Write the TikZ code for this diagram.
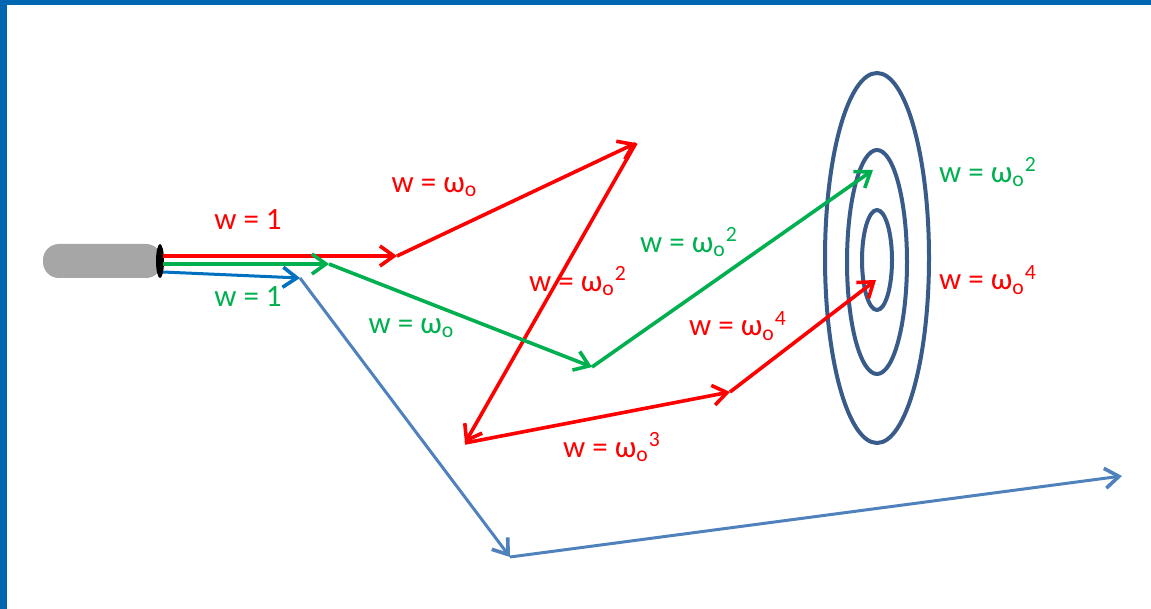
\documentclass[tikz,border=0pt]{standalone}
\usepackage{fontspec}
\setmainfont{Carlito}
\usetikzlibrary{arrows.meta}
\definecolor{frameblue}{RGB}{0,102,178}
\definecolor{wred}{RGB}{255,0,0}
\definecolor{wgreen}{RGB}{0,176,80}
\definecolor{wblue}{RGB}{0,112,192}
\definecolor{wsteel}{RGB}{79,129,189}
\definecolor{ring}{RGB}{56,91,138}
\definecolor{cablegray}{RGB}{166,166,166}
\newcommand{\wo}[1]{w = ω\textsubscript{o}\textsuperscript{#1}}
\tikzset{
  ray/.style={line width=1.8pt,-{Straight Barb[length=7pt,width=10pt,line width=1.8pt]}},
  lbl/.style={font=\fontsize{15.5}{18}\selectfont,inner sep=0pt}
}
\begin{document}
\begin{tikzpicture}[x=0.5pt,y=-0.5pt]
\useasboundingbox (0,0) rectangle (1151,609);
\fill[frameblue] (0,0) rectangle (1151,5);
\fill[frameblue] (0,0) rectangle (7,609);
% cable
\fill[cablegray,rounded corners=8] (43,244) rectangle (162,278);
\fill[black] (160,261) ellipse [x radius=4, y radius=17];
% target
\foreach \rx/\ry/\cy in {52/185/258,30/112/262,15/50/260}
  \draw[ring,line width=2pt] (877,\cy) ellipse [x radius=\rx, y radius=\ry];
% points
\coordinate (r0) at (163,256);
\coordinate (r1) at (397,256);
\coordinate (r2) at (636,143);
\coordinate (r3) at (465,443);
\coordinate (r4) at (730,392);
\coordinate (r5) at (876,280);
\coordinate (g0) at (163,264);
\coordinate (g1) at (329,264);
\coordinate (g2) at (592,367);
\coordinate (g3) at (873,170);
\coordinate (b0) at (163,272);
\coordinate (b1) at (300,278);
\coordinate (b2) at (510,557);
\coordinate (b3) at (1122,476);
% rays
\draw[ray,wred] (r0) -- (r1);
\draw[ray,wred] (r1) -- (r2);
\draw[ray,wred] (r2) -- (r3);
\draw[ray,wred] (r3) -- (r4);
\draw[ray,wred] (r4) -- (r5);
\draw[ray,wgreen] (g0) -- (g1);
\draw[ray,wgreen] (g1) -- (g2);
\draw[ray,wgreen] (g2) -- (g3);
\draw[ray,wblue,line width=1.5pt] (b0) -- (b1);
\draw[ray,wsteel,line width=1.5pt] (b1) -- (b2);
\draw[ray,wsteel,line width=1.5pt] (b2) -- (b3);
% labels
\node[lbl,wred] (l1) at (248,220) {w = 1};
\node[lbl,wgreen] (l2) at (248,297) {w = 1};
\node[lbl,wred] (l3) at (435,187) {\wo{}};
\node[lbl,wred] (l4) at (578,281) {\wo{2}};
\node[lbl,wgreen] (l5) at (412,328) {\wo{}};
\node[lbl,wgreen] (l6) at (689,242) {\wo{2}};
\node[lbl,wred] (l7) at (738,326) {\wo{4}};
\node[lbl,wred] (l8) at (612,447) {\wo{3}};
\node[lbl,wgreen] (l9) at (988,172) {\wo{2}};
\node[lbl,wred] (l10) at (988,280) {\wo{4}};
\end{tikzpicture}
\end{document}
